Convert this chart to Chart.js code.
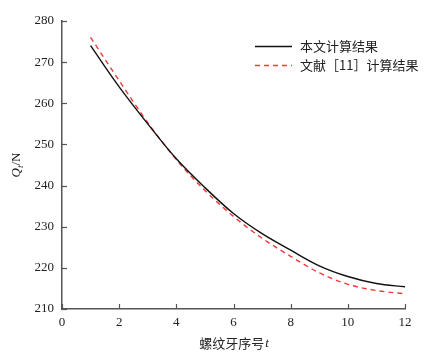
<!DOCTYPE html>
<html>
<head>
<meta charset="utf-8">
<script src="https://cdn.jsdelivr.net/npm/chart.js@4/dist/chart.umd.min.js"></script>
<style>
  html, body { margin: 0; padding: 0; background: #fff; }
  #wrap { width: 443px; height: 361px; }
</style>
</head>
<body>
<div id="wrap"><canvas id="chart" width="443" height="361"></canvas></div>
<script>
// Data
const threadNo = [1, 2, 3, 4, 5, 6, 7, 8, 9, 10, 11, 12];
const thisPaper = [274, 264, 255, 246.5, 239.5, 233.2, 228.3, 224.3, 220.5, 217.9, 216.2, 215.4];
const ref11 = [276, 265.5, 255.3, 246.3, 238.8, 232.5, 227.2, 222.8, 218.8, 216.0, 214.5, 213.7];
const seriesNames = ['本文计算结果', '文献［11］计算结果'];
const xTicks = [0, 2, 4, 6, 8, 10, 12];
const yTicks = [210, 220, 230, 240, 250, 260, 270, 280];

const axisColor = '#555';
const serif = '"Liberation Serif", "DejaVu Serif", serif';
const cjk = '"Noto Sans CJK SC", sans-serif';

// inner ticks, axis titles and legend
const decor = {
  id: 'decor',
  afterDraw(chart) {
    const ctx = chart.ctx;
    const xs = chart.scales.x, ys = chart.scales.y;
    const area = chart.chartArea;
    ctx.save();
    ctx.strokeStyle = axisColor;
    ctx.lineWidth = 1.2;
    xTicks.forEach(v => {
      const px = Math.round(xs.getPixelForValue(v)) + 0.5;
      ctx.beginPath();
      ctx.moveTo(px, area.bottom);
      ctx.lineTo(px, area.bottom - 5);
      ctx.stroke();
    });
    yTicks.forEach(v => {
      const py = Math.round(ys.getPixelForValue(v)) + 0.5;
      ctx.beginPath();
      ctx.moveTo(area.left, py);
      ctx.lineTo(area.left + 5, py);
      ctx.stroke();
    });

    // x title
    ctx.fillStyle = '#222';
    ctx.textBaseline = 'middle';
    ctx.font = '13px ' + cjk;
    const xt = '螺纹牙序号';
    ctx.font = '13px ' + cjk;
    const w1 = ctx.measureText(xt).width;
    ctx.font = 'italic 13px ' + serif;
    const w2 = ctx.measureText('t').width;
    const cx = (area.left + area.right) / 2;
    let sx = cx - (w1 + w2) / 2;
    ctx.font = '13px ' + cjk;
    ctx.textAlign = 'left';
    ctx.fillText(xt, sx, 343);
    ctx.font = 'italic 13px ' + serif;
    ctx.fillText('t', sx + w1 + 1, 344);

    // y title: Q_t/N rotated
    ctx.save();
    ctx.translate(17, (area.top + area.bottom) / 2);
    ctx.rotate(-Math.PI / 2);
    ctx.font = 'italic 13px ' + serif;
    const q = ctx.measureText('Q').width;
    ctx.font = 'italic 9px ' + serif;
    const t = ctx.measureText('t').width;
    ctx.font = '13px ' + serif;
    const n = ctx.measureText('/N').width;
    let px = -(q + t + n) / 2;
    ctx.font = 'italic 13px ' + serif;
    ctx.fillText('Q', px, 0);
    ctx.font = 'italic 9px ' + serif;
    ctx.fillText('t', px + q, 4);
    ctx.font = '13px ' + serif;
    ctx.fillText('/N', px + q + t, 0);
    ctx.restore();

    // legend
    const ds = chart.data.datasets;
    const rows = [46, 65];
    ds.forEach((d, i) => {
      ctx.strokeStyle = d.borderColor;
      ctx.lineWidth = d.borderWidth;
      ctx.setLineDash(d.borderDash || []);
      ctx.beginPath();
      ctx.moveTo(255, rows[i] + 0.5);
      ctx.lineTo(292, rows[i] + 0.5);
      ctx.stroke();
      ctx.setLineDash([]);
      ctx.fillStyle = '#222';
      ctx.font = '13px ' + cjk;
      ctx.textAlign = 'left';
      ctx.fillText(d.label, 300, rows[i]);
    });
    ctx.restore();
  }
};

new Chart(document.getElementById('chart'), {
  type: 'line',
  data: {
    labels: threadNo,
    datasets: [
      {
        label: seriesNames[0],
        data: threadNo.map((t, i) => ({ x: t, y: thisPaper[i] })),
        borderColor: '#111',
        borderWidth: 1.4,
        pointRadius: 0,
        cubicInterpolationMode: 'monotone'
      },
      {
        label: seriesNames[1],
        data: threadNo.map((t, i) => ({ x: t, y: ref11[i] })),
        borderColor: '#f03a3a',
        borderWidth: 1.4,
        borderDash: [5, 4],
        pointRadius: 0,
        cubicInterpolationMode: 'monotone'
      }
    ]
  },
  options: {
    responsive: false,
    animation: false,
    layout: { padding: { top: 21, right: 38, left: 0, bottom: 0 } },
    plugins: { legend: { display: false }, tooltip: { enabled: false } },
    scales: {
      x: {
        type: 'linear',
        min: 0, max: 12,
        afterBuildTicks: s => { s.ticks = xTicks.map(v => ({ value: v })); },
        grid: { display: false, drawTicks: false },
        border: { display: true, color: axisColor, width: 1.5 },
        ticks: { color: '#222', font: { family: serif, size: 13 }, padding: 6, maxRotation: 0 },
        afterFit: s => { s.height = 52; }
      },
      y: {
        min: 210, max: 280,
        afterBuildTicks: s => { s.ticks = yTicks.map(v => ({ value: v })); },
        grid: { display: false, drawTicks: false },
        border: { display: true, color: axisColor, width: 1.5 },
        ticks: { color: '#222', font: { family: serif, size: 13 }, padding: 8 },
        afterFit: s => { s.width = 62; }
      }
    }
  },
  plugins: [decor]
});
</script>
</body>
</html>
